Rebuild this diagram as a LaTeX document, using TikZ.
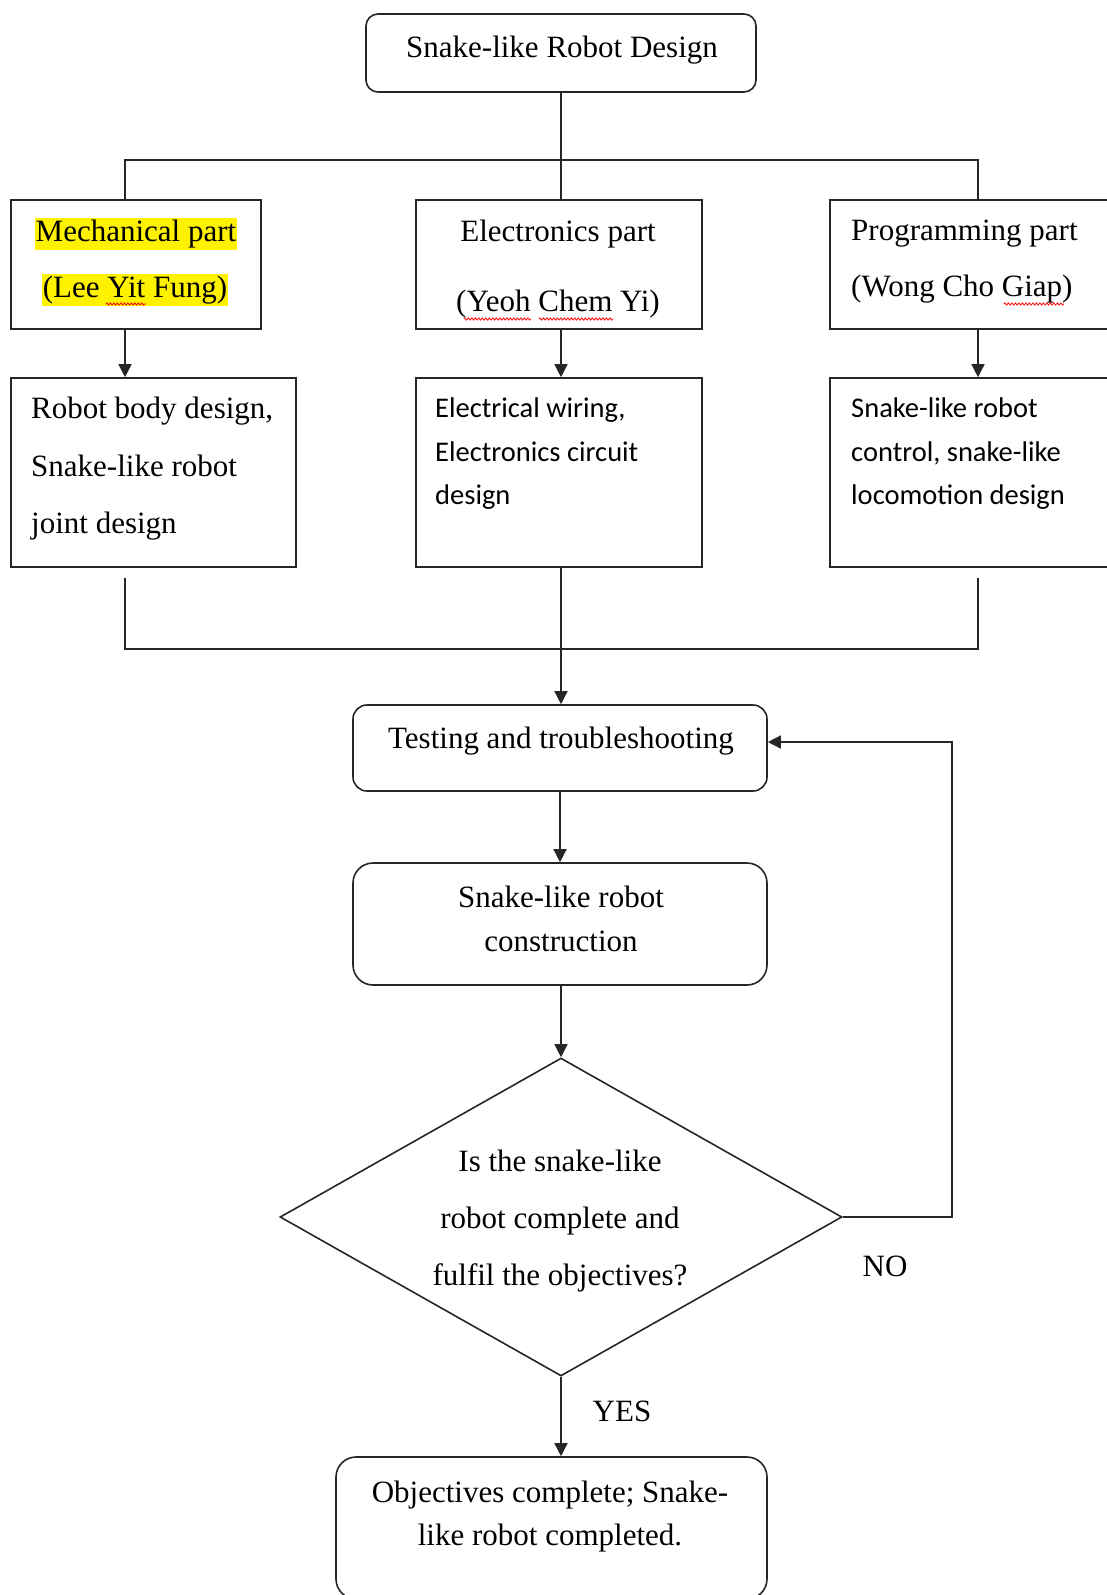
\documentclass[tikz,border=0pt]{standalone}
\usepackage{fontspec}
\setmainfont{Liberation Serif}
\newfontfamily\calfont{Carlito}
\usetikzlibrary{arrows.meta,shapes.geometric,decorations.pathmorphing}
\begin{document}
\begin{tikzpicture}[x=1pt,y=-1pt,
  box/.style={draw=black!85, line width=1.6pt, inner sep=0pt},
  conn/.style={draw=black!85, line width=1.4pt},
  arr/.style={conn, -{Triangle[length=13pt,width=13pt]}},
  tx/.style={font=\fontsize{31}{#1}\selectfont, inner sep=0pt},
  cal/.style={font=\calfont\fontsize{28.5}{#1}\selectfont, inner sep=0pt},
  hl/.style={font=\fontsize{31}{36}\selectfont, fill=yellow, inner xsep=1pt, inner ysep=1.5pt},
  squig/.style={draw=red, line width=0.8pt, decorate, decoration={zigzag, amplitude=1.1pt, segment length=3.5pt}}
]
\useasboundingbox (0,0) rectangle (1106,1595);

% boxes
\node[box, rounded corners=12pt, minimum width=390pt, minimum height=78pt] (top) at (561,53) {};
\node[box, minimum width=250pt, minimum height=129pt] (mech) at (136,264.5) {};
\node[box, minimum width=286pt, minimum height=129pt] (elec) at (559,264.5) {};
\node[box, minimum width=282pt, minimum height=129pt] (prog) at (971,264.5) {};
\node[box, minimum width=285pt, minimum height=189pt] (body) at (153.5,472.5) {};
\node[box, minimum width=286pt, minimum height=189pt] (elwire) at (559,472.5) {};
\node[box, minimum width=282pt, minimum height=189pt] (ctrl) at (971,472.5) {};
\node[box, rounded corners=14pt, minimum width=414pt, minimum height=86pt] (test) at (560,748) {};
\node[box, rounded corners=20pt, minimum width=414pt, minimum height=122pt] (cons) at (560,924) {};
\node[box, diamond, minimum width=562pt, minimum height=318pt] (dec) at (561,1217) {};
\node[box, rounded corners=20pt, minimum width=431pt, minimum height=142pt] (final) at (551.5,1528) {};

% texts
\node[tx=36] (ttop) at (562,50) {Snake-like Robot Design};
\node[hl] (tmech1) at (136,234) {Mechanical part};
\node[hl] (tmech2) at (135,290) {(Lee Yit Fung)};
\node[tx=70, align=center] (telec) at (558,269) {Electronics part\\(Yeoh Chem Yi)};
\node[tx=56, align=left, anchor=west] (tprog) at (851,262) {Programming part\\(Wong Cho Giap)};
\node[tx=57.5, align=left, anchor=west] (tbody) at (31,469) {Robot body design,\\Snake-like robot\\joint design};
\node[cal=43.5, align=left, anchor=west] (twire) at (435,454) {Electrical wiring,\\Electronics circuit\\design};
\node[cal=43.5, align=left, anchor=west] (tctrl) at (851,454) {Snake-like robot\\control, snake-like\\locomotion design};
\node[tx=36] (ttest) at (561,741) {Testing and troubleshooting};
\node[tx=44, align=center] (tcons) at (561,919) {Snake-like robot\\construction};
\node[tx=57, align=center] (tdec) at (560,1221) {Is the snake-like\\robot complete and\\fulfil the objectives?};
\node[tx=36] (tno) at (885,1266) {NO};
\node[tx=36] (tyes) at (622,1411) {YES};
\node[tx=43, align=center] (tfinal) at (550,1517) {Objectives complete; Snake-\\like robot completed.};

% spell-check marks
\draw[squig] (106,304) -- (146,304);
\draw[squig] (464,319) -- (531,319);
\draw[squig] (539,319) -- (613,319);
\draw[squig] (1004,304) -- (1064,304);

% connectors
\coordinate (cL) at (125,160);
\coordinate (cR) at (978,160);
\draw[conn] (top.south) -- (top.south |- elec.north);
\draw[conn] (cL |- mech.north) -- (cL) -- (cR) -- (cR |- prog.north);
\draw[arr] (cL |- mech.south) -- (cL |- body.north);
\draw[arr] (top.south |- elec.south) -- (top.south |- elwire.north);
\draw[arr] (cR |- prog.south) -- (cR |- ctrl.north);

\coordinate (mL) at (125,578);
\coordinate (mR) at (978,578);
\coordinate (jn) at (125,649);
\draw[conn] (mL) -- (mL |- jn) -- (mR |- jn) -- (mR);
\draw[arr] (top.south |- elwire.south) -- (top.south |- test.north);
\draw[arr] (test.south) -- (cons.north);
\draw[arr] (dec.north |- cons.south) -- (dec.north);
\draw[arr] (dec.south) -- (dec.south |- final.north);

\coordinate (lp) at (952,742);
\draw[arr] (dec.east) -- (dec.east -| lp) -- (lp) -- (lp -| test.east);
\end{tikzpicture}
\end{document}
